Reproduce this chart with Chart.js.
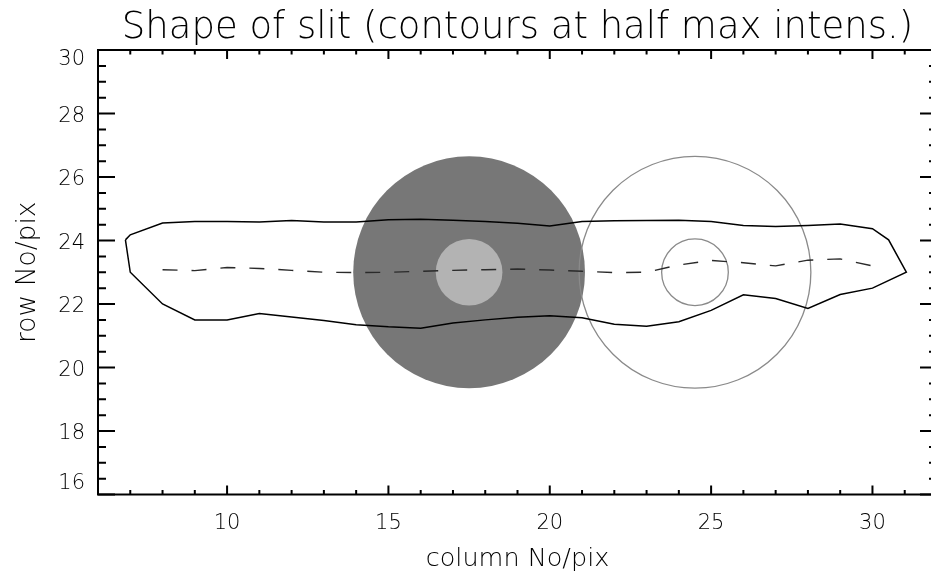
<!DOCTYPE html>
<html>
<head>
<meta charset="utf-8">
<script src="https://cdn.jsdelivr.net/npm/chart.js@4/dist/chart.umd.min.js"></script>
<style>
  html, body { margin: 0; padding: 0; background: #fff; overflow: hidden; width: 931px; height: 575px; }
  #wrap { position: relative; width: 950px; height: 575px; }
</style>
</head>
<body>
<div id="wrap"><canvas id="slitChart"></canvas></div>
<script>
// Half-max contour of the slit image (closed outline, column / row in pix)
const contourCol = [6.85, 7, 8, 9, 10, 11, 12, 13, 14, 15, 16, 17, 18, 19, 20, 21, 22, 23, 24, 25, 26, 27, 28, 29, 30, 30.5, 31.05,
                    30, 29, 28, 27, 26, 25, 24, 23, 22, 21, 20, 19, 18, 17, 16, 15, 14, 13, 12, 11, 10, 9, 8, 7, 6.85];
const contourRow = [24.02, 24.18, 24.55, 24.6, 24.6, 24.58, 24.63, 24.58, 24.58, 24.65, 24.67, 24.64, 24.6, 24.54, 24.46, 24.6, 24.62, 24.63, 24.64, 24.6, 24.47, 24.44, 24.47, 24.52, 24.37, 24.02, 23.0,
                    22.5, 22.3, 21.86, 22.17, 22.29, 21.8, 21.44, 21.3, 21.36, 21.57, 21.63, 21.58, 21.5, 21.4, 21.24, 21.28, 21.35, 21.48, 21.59, 21.7, 21.5, 21.5, 22.0, 23.0, 24.02];

// Ridge line of the slit (dashed)
const ridgeCol = [8, 9, 10, 11, 12, 13, 14, 15, 16, 17, 18, 19, 20, 21, 22, 23, 24, 25, 26, 27, 28, 29, 30];
const ridgeRow = [23.08, 23.05, 23.15, 23.12, 23.06, 23.0, 22.99, 23.0, 23.03, 23.06, 23.08, 23.1, 23.07, 23.03, 22.99, 23.0, 23.23, 23.37, 23.3, 23.2, 23.38, 23.42, 23.2];

// Aperture circles: centre column, centre row, radius (pix)
const diskCol = [17.5, 17.5, 24.5, 24.5];
const diskRow = [23, 23, 23, 23];
const diskRadius = [3.65, 1.05, 3.65, 1.05];

// Axis ticks
const xTickValues = [10, 15, 20, 25, 30];
const yTickValues = [16, 18, 20, 22, 24, 26, 28, 30];

const FONT = "'DejaVu Sans'";
const WEIGHT = 200;

const toPoints = (xs, ys) => xs.map((x, i) => ({ x: x, y: ys[i] }));

// Filled / outlined apertures, drawn under the contours
const diskPlugin = {
    id: 'disks',
    beforeDatasetsDraw(chart) {
        const { ctx, scales: { x, y } } = chart;
        const styles = [
            { fill: '#777777' },
            { fill: '#b3b3b3' },
            { stroke: '#8a8a8a' },
            { stroke: '#8a8a8a' }
        ];
        ctx.save();
        diskCol.forEach((c, i) => {
            const cx = x.getPixelForValue(c);
            const cy = y.getPixelForValue(diskRow[i]);
            const r = Math.abs(y.getPixelForValue(diskRow[i] + diskRadius[i]) - cy);
            ctx.beginPath();
            ctx.arc(cx, cy, r, 0, Math.PI * 2);
            if (styles[i].fill) {
                ctx.fillStyle = styles[i].fill;
                ctx.fill();
            } else {
                ctx.strokeStyle = styles[i].stroke;
                ctx.lineWidth = 1.3;
                ctx.stroke();
            }
        });
        ctx.restore();
    }
};

// Box frame with inward ticks on all four sides, plus row labels
// (end labels pulled inside the frame so they don't overhang it)
const framePlugin = {
    id: 'frame',
    afterDatasetsDraw(chart) {
        const { ctx, chartArea: a, scales: { x, y } } = chart;
        ctx.save();
        ctx.strokeStyle = '#000';
        ctx.lineWidth = 2;
        ctx.strokeRect(a.left, a.top, a.right - a.left, a.bottom - a.top);
        ctx.beginPath();
        for (let v = Math.ceil(x.min); v <= x.max; v += 1) {
            const px = x.getPixelForValue(v);
            const len = xTickValues.includes(v) ? 9 : 4.5;
            ctx.moveTo(px, a.bottom); ctx.lineTo(px, a.bottom - len);
            ctx.moveTo(px, a.top); ctx.lineTo(px, a.top + len);
        }
        for (let v = y.min; v <= y.max; v += 0.5) {
            const py = y.getPixelForValue(v);
            const len = yTickValues.includes(v) ? 17 : 8;
            ctx.moveTo(a.left, py); ctx.lineTo(a.left + len, py);
            ctx.moveTo(a.right, py); ctx.lineTo(a.right - len, py);
        }
        ctx.stroke();

        ctx.fillStyle = '#000';
        ctx.font = `${WEIGHT} 21px ${FONT}`;
        ctx.textAlign = 'right';
        ctx.textBaseline = 'middle';
        yTickValues.forEach(v => {
            let py = y.getPixelForValue(v) + 3;
            if (v === y.max) py += 7;
            if (v === y.min) py -= 14;
            ctx.fillText(String(v), a.left - 13, py);
        });
        ctx.restore();
    }
};

new Chart(document.getElementById('slitChart'), {
    type: 'scatter',
    data: {
        datasets: [
            {
                label: 'contour',
                data: toPoints(contourCol, contourRow),
                showLine: true,
                borderColor: '#000',
                borderWidth: 1.5,
                pointRadius: 0,
                tension: 0
            },
            {
                label: 'ridge',
                data: toPoints(ridgeCol, ridgeRow),
                showLine: true,
                borderColor: '#2a2a2a',
                borderWidth: 1.4,
                borderDash: [15, 14],
                pointRadius: 0,
                tension: 0
            }
        ]
    },
    options: {
        responsive: true,
        maintainAspectRatio: false,
        animation: false,
        layout: { padding: { left: 0, right: 13, top: 0, bottom: 0 } },
        plugins: {
            legend: { display: false },
            tooltip: { enabled: false },
            title: {
                display: true,
                fullSize: false,
                text: 'Shape of slit (contours at half max intens.)',
                color: '#000',
                font: { family: FONT, size: 37, weight: WEIGHT, lineHeight: 1.2 },
                padding: { top: 6.5, bottom: -0.9 }
            }
        },
        scales: {
            x: {
                type: 'linear',
                min: 6,
                max: 32,
                afterBuildTicks: s => { s.ticks = xTickValues.map(v => ({ value: v })); },
                afterFit: s => { s.height = 80.5; },
                grid: { display: false, drawTicks: false },
                border: { display: false },
                ticks: {
                    color: '#000',
                    padding: 16,
                    maxRotation: 0,
                    font: { family: FONT, size: 21, weight: WEIGHT, lineHeight: 1.2 }
                },
                title: {
                    display: true,
                    text: 'column No/pix',
                    color: '#000',
                    font: { family: FONT, size: 25.5, weight: WEIGHT, lineHeight: 1.2 },
                    padding: { top: 0, bottom: 0.7 }
                }
            },
            y: {
                type: 'linear',
                min: 16,
                max: 30,
                afterBuildTicks: s => { s.ticks = yTickValues.map(v => ({ value: v })); },
                afterFit: s => { s.width = 98; },
                grid: { display: false, drawTicks: false },
                border: { display: false },
                ticks: { display: false },
                title: {
                    display: true,
                    text: 'row No/pix',
                    color: '#000',
                    font: { family: FONT, size: 26.5, weight: WEIGHT, lineHeight: 1.2 },
                    padding: { top: 12.1, bottom: 0 }
                }
            }
        }
    },
    plugins: [diskPlugin, framePlugin]
});
</script>
</body>
</html>
